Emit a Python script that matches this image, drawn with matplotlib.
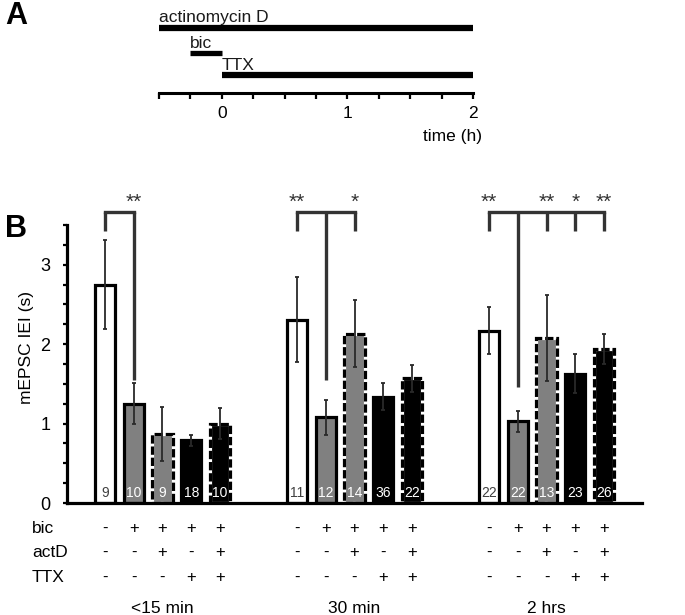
import numpy as np
import matplotlib
matplotlib.use("Agg")
import matplotlib.pyplot as plt
from matplotlib.ticker import MultipleLocator

plt.rcParams['font.family'] = ['Liberation Sans', 'DejaVu Sans']

# panel A: treatment timeline (hours)
treatments = ["actinomycin D", "bic", "TTX"]
t_start = [-0.5, -0.25, 0]
t_end = [2, 0, 2]

# panel B: mEPSC IEI (s), mean and error, n cells
groups = ["<15 min", "30 min", "2 hrs"]
means = [
    [2.75, 1.25, 0.87, 0.79, 1.00],
    [2.31, 1.08, 2.13, 1.34, 1.57],
    [2.17, 1.03, 2.08, 1.63, 1.94],
]
errs = [
    [0.56, 0.26, 0.34, 0.07, 0.20],
    [0.54, 0.22, 0.42, 0.17, 0.17],
    [0.30, 0.13, 0.54, 0.25, 0.19],
]
n_cells = [
    [9, 10, 9, 18, 10],
    [11, 12, 14, 36, 22],
    [22, 22, 13, 23, 26],
]
bic = ["-", "+", "+", "+", "+"]
actd = ["-", "-", "+", "-", "+"]
ttx = ["-", "-", "-", "+", "+"]

# significance brackets: legs per group, stars per group
sig_legs = [[0, 1], [0, 1, 2], [0, 1, 2, 3, 4]]
sig_stars = [[(1, "**")], [(0, "**"), (2, "*")], [(0, "**"), (2, "**"), (3, "*"), (4, "**")]]
long_leg_bottom = [1.55, 1.55, 1.46]

face = ["white", "#808080", "#808080", "black", "black"]
dashed = [False, False, True, False, True]

fig = plt.figure(figsize=(6.85, 6.15), dpi=100)

# ---------------- panel A ----------------
ax_a = fig.add_axes([159 / 685, 1 - 93 / 615, 314 / 685, 83 / 615])
ax_a.set_xlim(-0.5, 2)
ax_a.set_ylim(0, 1)
bar_y = [0.783, 0.482, 0.217]
bar_lw = [4.5, 3.8, 4.5]
text_y = [0.86, 0.545, 0.28]
for name, s, e, y, lw, ty in zip(treatments, t_start, t_end, bar_y, bar_lw, text_y):
    ax_a.hlines(y, s, e, colors="black", linewidth=lw, capstyle="butt", clip_on=False)
    ax_a.text(s, ty, name, ha="left", va="baseline", fontsize=12.5, color="#1a1a1a")
for sp in ["left", "top", "right"]:
    ax_a.spines[sp].set_visible(False)
ax_a.spines["bottom"].set_linewidth(2.2)
ax_a.set_yticks([])
ax_a.set_xticks([0, 1, 2])
ax_a.xaxis.set_minor_locator(MultipleLocator(0.25))
ax_a.tick_params(axis="x", which="both", direction="out", length=4.5, width=1.6, labelsize=12.5, pad=5)
fig.text(482 / 685, 1 - 137 / 615, "time (h)", ha="right", va="center", fontsize=12.5)

# ---------------- panel B ----------------
ax = fig.add_axes([67 / 685, 1 - 503 / 615, 575 / 685, 278 / 615])
gap = 6.68
width = 0.7
for g in range(len(groups)):
    x = g * gap + np.arange(5)
    for i in range(5):
        if dashed[i]:
            ax.bar(x[i], means[g][i], width, color=face[i], edgecolor="white", linewidth=2.3, zorder=1)
            ax.bar(x[i], means[g][i], width, fill=False, edgecolor="black", linewidth=2.3,
                   linestyle=(0, (2.6, 0.9)), zorder=1.1)
        else:
            ax.bar(x[i], means[g][i], width, color=face[i], edgecolor="black", linewidth=2.3, zorder=1)
        ax.text(x[i], 0.13, str(n_cells[g][i]), ha="center", va="center", fontsize=10,
                color="#404040" if face[i] == "white" else "white", zorder=4)
    ax.errorbar(x, means[g], yerr=errs[g], fmt="none", ecolor="#2a2a2a", elinewidth=1.3,
                capsize=1.6, capthick=1.3, zorder=3)

    # brackets
    legs = sig_legs[g]
    top, short = 3.66, 3.42
    ax.plot([x[legs[0]], x[legs[-1]]], [top, top], color="#333333", lw=2.4, clip_on=False,
            solid_capstyle="projecting")
    for j in legs:
        bottom = long_leg_bottom[g] if j == 1 else short
        ax.plot([x[j], x[j]], [top, bottom], color="#333333", lw=2.4, clip_on=False,
                solid_capstyle="butt")
    for j, lab in sig_stars[g]:
        ax.text(x[j], 3.78, lab, ha="center", va="center", fontsize=15, color="#333333",
                clip_on=False)

    # treatment table
    for row, yv in zip([bic, actd, ttx], [-0.315, -0.617, -0.932]):
        for i in range(5):
            ax.text(x[i], yv, row[i], ha="center", va="center", fontsize=12, clip_on=False)
    ax.text(x[2], -1.33, groups[g], ha="center", va="center", fontsize=12.5, clip_on=False)

for lab, yv in zip(["bic", "actD", "TTX"], [-0.315, -0.617, -0.932]):
    ax.text(-2.54, yv, lab, ha="left", va="center", fontsize=12.5, clip_on=False)

ax.set_xlim(-1.32, 18.68)
ax.set_ylim(0, 3.5)
ax.set_xticks([])
ax.set_yticks([0, 1, 2, 3])
ax.yaxis.set_minor_locator(MultipleLocator(0.25))
ax.tick_params(axis="y", which="both", direction="out", length=3, width=1.6, labelsize=13, pad=9)
for sp in ["top", "right"]:
    ax.spines[sp].set_visible(False)
for sp in ["left", "bottom"]:
    ax.spines[sp].set_linewidth(2.3)
ax.set_ylabel("mEPSC IEI (s)", fontsize=12.5)
ax.yaxis.set_label_coords(-0.058, 0.56)

fig.text(5 / 685, 1 - 16 / 615, "A", fontsize=22, fontweight="bold", va="center", ha="left")
fig.text(5 / 685, 1 - 229 / 615, "B", fontsize=22, fontweight="bold", va="center", ha="left")

fig.savefig("out.png", dpi=100)
